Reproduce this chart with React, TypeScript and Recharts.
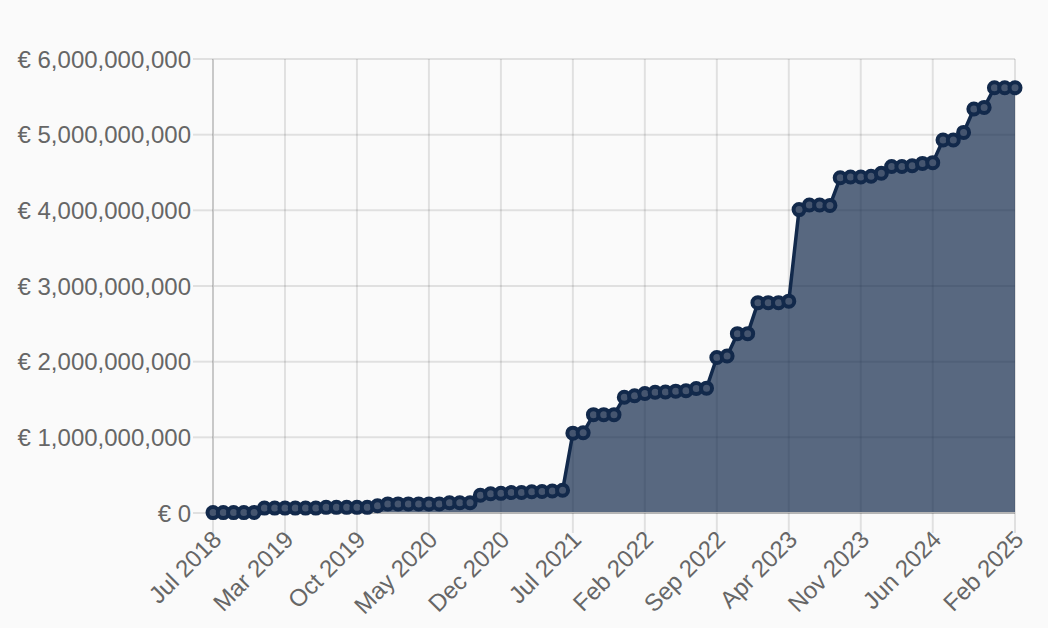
import React from "react";
import { AreaChart, Area, XAxis, YAxis, CartesianGrid } from "recharts";

// month labels, one per data point (Feb 2019 has no entry)
const months = [
	"Jul 2018", "Aug 2018", "Sep 2018", "Oct 2018", "Nov 2018", "Dec 2018",
	"Jan 2019", "Mar 2019", "Apr 2019", "May 2019", "Jun 2019", "Jul 2019",
	"Aug 2019", "Sep 2019", "Oct 2019", "Nov 2019", "Dec 2019", "Jan 2020",
	"Feb 2020", "Mar 2020", "Apr 2020", "May 2020", "Jun 2020", "Jul 2020",
	"Aug 2020", "Sep 2020", "Oct 2020", "Nov 2020", "Dec 2020", "Jan 2021",
	"Feb 2021", "Mar 2021", "Apr 2021", "May 2021", "Jun 2021", "Jul 2021",
	"Aug 2021", "Sep 2021", "Oct 2021", "Nov 2021", "Dec 2021", "Jan 2022",
	"Feb 2022", "Mar 2022", "Apr 2022", "May 2022", "Jun 2022", "Jul 2022",
	"Aug 2022", "Sep 2022", "Oct 2022", "Nov 2022", "Dec 2022", "Jan 2023",
	"Feb 2023", "Mar 2023", "Apr 2023", "May 2023", "Jun 2023", "Jul 2023",
	"Aug 2023", "Sep 2023", "Oct 2023", "Nov 2023", "Dec 2023", "Jan 2024",
	"Feb 2024", "Mar 2024", "Apr 2024", "May 2024", "Jun 2024", "Jul 2024",
	"Aug 2024", "Sep 2024", "Oct 2024", "Nov 2024", "Dec 2024", "Jan 2025",
	"Feb 2025",
];

// cumulative amount, in millions of euro
const amountMillions = [
	5, 5, 5, 5, 8, 65, 65, 65, 65, 65, 65, 75, 75, 75, 75, 75,
	95, 120, 120, 120, 120, 120, 120, 135, 135, 135,
	235, 255, 260, 270, 270, 280, 285, 290, 300,
	1055, 1060, 1300, 1300, 1300,
	1530, 1550, 1580, 1595, 1600, 1610, 1615, 1645, 1650,
	2055, 2075, 2370, 2370, 2780, 2780, 2780, 2800,
	4010, 4070, 4070, 4065, 4430, 4440, 4440, 4450, 4490,
	4580, 4580, 4590, 4620, 4630, 4930, 4930, 5030,
	5340, 5360, 5620, 5620, 5620,
];

const xTickIdx = [0, 7, 14, 21, 28, 35, 42, 49, 56, 63, 70, 78];
const yTicks = [0, 1e9, 2e9, 3e9, 4e9, 5e9, 6e9];

const data = months.map((m, i) => ({
	idx: i,
	month: m,
	amount: amountMillions[i] * 1e6,
}));

const gridColor = "rgba(0,0,0,0.1)";
const fontFamily = "'Liberation Sans', Arial, Helvetica, sans-serif";

const euro = (v: number) => "€ " + v.toLocaleString("en-US");

function MonthTick(props: any) {
	const { x, y, payload } = props;
	return (
		<g transform={`translate(${x + 4},${y})`}>
			<text
				x={0}
				y={0}
				dy='0.35em'
				textAnchor='end'
				transform='rotate(-45)'
				fill='#666'
				fontSize={24}
				fontFamily={fontFamily}
			>
				{months[payload.value]}
			</text>
		</g>
	);
}

export default function App() {
	return (
		<div
			style={{
				position: "absolute",
				left: 0,
				top: 0,
				width: 1048,
				height: 628,
				background: "#fafafa",
				fontFamily,
			}}
		>
			<AreaChart
				width={1048}
				height={628}
				data={data}
				margin={{ top: 59, right: 33, left: 0, bottom: 0 }}
			>
				<CartesianGrid stroke={gridColor} strokeWidth={2} />
				<XAxis
					dataKey='idx'
					type='number'
					domain={[0, 78]}
					ticks={xTickIdx}
					interval={0}
					height={115}
					tickSize={20}
					tickMargin={2}
					tickLine={{ stroke: gridColor, strokeWidth: 2 }}
					axisLine={{ stroke: "#b5b5b5", strokeWidth: 2 }}
					tick={<MonthTick />}
				/>
				<YAxis
					domain={[0, 6e9]}
					ticks={yTicks}
					width={213}
					tickSize={20}
					tickMargin={2}
					tickFormatter={euro}
					tickLine={{ stroke: gridColor, strokeWidth: 2 }}
					axisLine={{ stroke: "#c8c8c8", strokeWidth: 2 }}
					tick={{ fill: "#666", fontSize: 24, fontFamily }}
				/>
				<Area
					type='linear'
					dataKey='amount'
					stroke='#12294b'
					strokeWidth={3.5}
					fill='#12294b'
					fillOpacity={0.7}
					dot={{ r: 5.5, stroke: "#12294b", strokeWidth: 4, fill: "#45556f", fillOpacity: 1 }}
					activeDot={false}
					isAnimationActive={false}
				/>
			</AreaChart>
		</div>
	);
}
